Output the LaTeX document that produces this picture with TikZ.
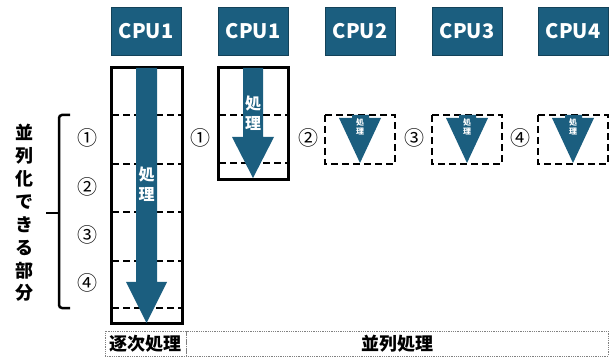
\documentclass[tikz,border=0pt]{standalone}
\usepackage{fontspec}
\setmainfont{Noto Sans CJK JP}
\usetikzlibrary{positioning,calc}
\definecolor{cpuColor}{HTML}{1B5E7F}

\begin{document}
\begin{tikzpicture}[
    x=1pt, y=-1pt,
    cpu/.style={rectangle, draw=cpuColor!70!black, fill=cpuColor, text=white, minimum width=70pt, minimum height=48pt, inner sep=0pt, font=\fontsize{20}{20}\selectfont\bfseries},
    frame/.style={draw, line width=3pt},
    part/.style={draw, line width=2.6pt, dash pattern=on 7pt off 4pt},
    flow/.style={fill=cpuColor},
    flowlabel/.style={text=white, align=center, inner sep=0pt, font=\fontsize{16}{20}\selectfont\bfseries},
    minilabel/.style={text=white, align=center, inner sep=0pt, font=\fontsize{8}{8.5}\selectfont\bfseries},
    num/.style={inner sep=0pt, font=\fontsize{20}{20}\selectfont},
    footer/.style={draw=gray, densely dotted, line width=0.8pt, minimum height=25pt, inner sep=0pt, font=\fontsize{18}{18}\selectfont\bfseries},
  ]
  \useasboundingbox (0,0) rectangle (616,358);

  % CPUs
  \node[cpu] (cpu1) at (146,31) {CPU1};
  \node[cpu] (cpu1b) at (253,31) {CPU1};
  \node[cpu] (cpu2) at (360,31) {CPU2};
  \node[cpu] (cpu3) at (467,31) {CPU3};
  \node[cpu] (cpu4) at (573,31) {CPU4};

  % Sequential column
  \draw[frame] (111,68) rectangle (182,323);
  \foreach \y in {115,164,212,261,308}
    \draw[part] (112,\y) -- (181,\y);
  \fill[flow] (136,68) -- (157,68) -- (157,282) -- (167,282) -- (146.5,323) -- (126,282) -- (136,282) -- cycle;
  \node[flowlabel] (seqtxt) at (146.5,184) {処\\理};

  % Parallel, CPU1
  \draw[frame] (218,68) rectangle (288,180);
  \foreach \y in {115,163}
    \draw[part] (219,\y) -- (287,\y);
  \fill[flow] (243,68) -- (263,68) -- (263,137) -- (274,137) -- (253,178) -- (232,137) -- (243,137) -- cycle;
  \node[flowlabel] (partxt1) at (253,113) {処\\理};

  % Parallel, CPU2-4
  \foreach \x/\n in {360/2,467/3,573/4} {
    \draw[part] (\x-35,115) rectangle (\x+35,164);
    \fill[flow] (\x-8,115) -- (\x+9,115) -- (\x+9,118) -- (\x+21,118) -- (\x,163) -- (\x-21,118) -- (\x-8,118) -- cycle;
    \node[minilabel] (partxt\n) at (\x,127) {処\\理};
  }

  % Numbers
  \node[num] (n1) at (87,138) {①};
  \node[num] (n2) at (87,187) {②};
  \node[num] (n3) at (87,235) {③};
  \node[num] (n4) at (87,283) {④};
  \node[num] (p1) at (200,138) {①};
  \node[num] (p2) at (308,138) {②};
  \node[num] (p3) at (414,138) {③};
  \node[num] (p4) at (520,138) {④};

  % Brace
  \draw[line width=2.5pt, rounded corners=3pt] (70,115) -- (59,115) -- (59,308) -- (70,308);
  \draw[line width=2.5pt] (59,213) -- (46,213);
  \node[align=center, inner sep=0pt, font=\fontsize{18}{22.9}\selectfont\bfseries] (partlabel) at (25,213) {並\\列\\化\\で\\き\\る\\部\\分};

  % Footer
  \node[footer, minimum width=81pt] (seqlab) at (145.5,343.5) {逐次処理};
  \node[footer, minimum width=422pt] (parlab) at (397,343.5) {並列処理};

\end{tikzpicture}
\end{document}
